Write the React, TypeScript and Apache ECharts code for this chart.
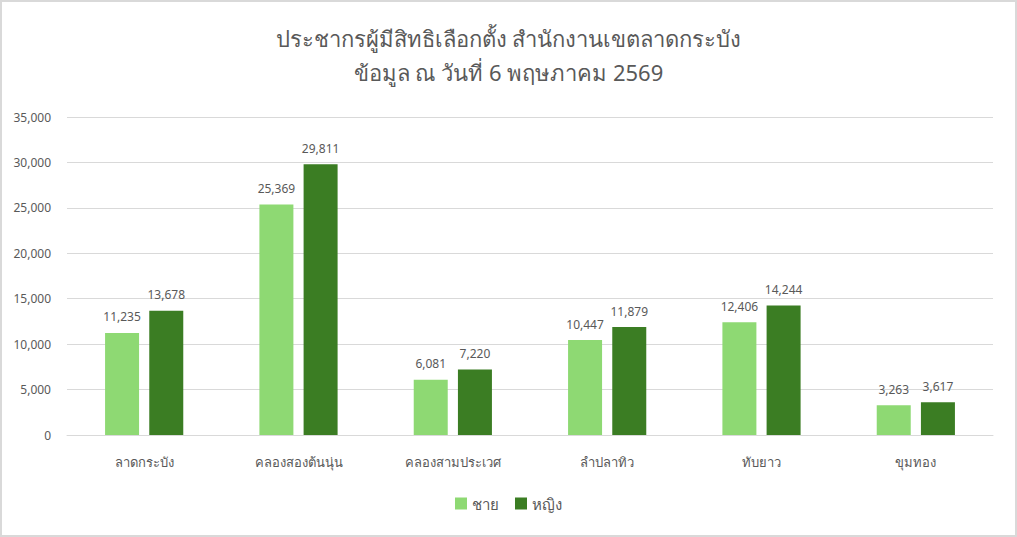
import React, { useEffect, useRef } from "react";
import * as echarts from "echarts";

const categories = ["ลาดกระบัง", "คลองสองต้นนุ่น", "คลองสามประเวศ", "ลำปลาทิว", "ทับยาว", "ขุมทอง"];
const maleValues = [11235, 25369, 6081, 10447, 12406, 3263];
const femaleValues = [13678, 29811, 7220, 11879, 14244, 3617];
const seriesNames = ["ชาย", "หญิง"];
const titleLines = ["ประชากรผู้มีสิทธิเลือกตั้ง สำนักงานเขตลาดกระบัง", "ข้อมูล ณ วันที่ 6 พฤษภาคม 2569"];

const FONT = "'Noto Sans', 'Open Sans', sans-serif";

export default function App() {
  const ref = useRef<HTMLDivElement>(null);
  useEffect(() => {
    document.body.style.margin = "0";
    const chart = echarts.init(ref.current!, null, { renderer: "svg" });
    const fmt = (p: any) => Number(p.value).toLocaleString("en-US");
    chart.setOption({
      animation: false,
      backgroundColor: "#ffffff",
      textStyle: { fontFamily: FONT },
      title: {
        text: titleLines.join("\n"),
        left: "center",
        top: 14,
        textStyle: { fontFamily: FONT, fontSize: 22, fontWeight: "normal", color: "#595959", lineHeight: 34 },
      },
      legend: {
        data: seriesNames,
        bottom: 19,
        left: "center",
        itemWidth: 12,
        itemHeight: 12,
        itemGap: 16,
        icon: "rect",
        textStyle: { fontFamily: FONT, fontSize: 15, color: "#595959" },
      },
      grid: { left: 65, right: 22, top: 115, bottom: 100, containLabel: false },
      xAxis: {
        type: "category",
        data: categories,
        axisLine: { lineStyle: { color: "#d9d9d9" } },
        axisTick: { show: false },
        axisLabel: { fontFamily: FONT, fontSize: 13, color: "#595959", margin: 20 },
      },
      yAxis: {
        type: "value",
        min: 0,
        max: 35000,
        interval: 5000,
        axisLine: { show: false },
        axisTick: { show: false },
        splitLine: { lineStyle: { color: "#d9d9d9" } },
        axisLabel: {
          fontFamily: FONT,
          fontSize: 12,
          color: "#595959",
          margin: 16,
          formatter: (v: number) => v.toLocaleString("en-US"),
        },
      },
      series: [
        {
          name: seriesNames[0],
          type: "bar",
          data: maleValues,
          barWidth: 34,
          barGap: "30%",
          itemStyle: { color: "#8ED973" },
          label: { show: true, position: "top", distance: 10, fontFamily: FONT, fontSize: 12, color: "#595959", formatter: fmt },
        },
        {
          name: seriesNames[1],
          type: "bar",
          data: femaleValues,
          barWidth: 34,
          itemStyle: { color: "#3B7D23" },
          label: { show: true, position: "top", distance: 10, fontFamily: FONT, fontSize: 12, color: "#595959", formatter: fmt },
        },
      ],
    });
    return () => chart.dispose();
  }, []);
  return (
    <div
      ref={ref}
      style={{ width: 1017, height: 537, boxSizing: "border-box", border: "2px solid #d9d9d9", background: "#fff" }}
    />
  );
}
